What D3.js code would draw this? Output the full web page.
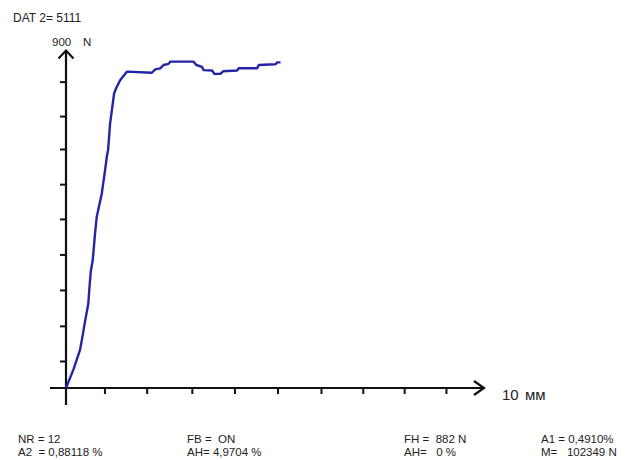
<!DOCTYPE html>
<html>
<head>
<meta charset="utf-8">
<script src="https://cdn.jsdelivr.net/npm/d3@7"></script>
<style>
  html, body { margin: 0; padding: 0; background: #fff; }
  svg { display: block; font-family: "Liberation Sans", Arial, sans-serif; }
</style>
</head>
<body>
<svg id="chart" width="625" height="460"></svg>
<script>
// Elongation (mm) and force (N) samples of the tensile test curve
const elongation = [0, 0.175, 0.336, 0.40, 0.44, 0.535, 0.559, 0.592, 0.64, 0.695, 0.736, 0.856, 0.935, 0.976, 1.007, 1.055, 1.151, 1.199, 1.295, 1.456,
  2.055, 2.134, 2.254, 2.333, 2.453, 2.494, 3.053, 3.118, 3.254, 3.293, 3.494, 3.549, 3.693, 3.758, 4.093, 4.132, 4.573, 4.612, 5.012, 5.053, 5.132];
const force = [0, 49, 103, 143, 170, 229, 269, 314, 346, 418, 463, 526, 589, 625, 643, 715, 796, 810, 832, 855,
  852, 861, 864, 873, 876, 882, 882, 873, 868, 859, 858, 849, 849, 856, 858, 864, 864, 873, 875, 880, 880];

// Axis tick marks (data units)
const xTicks = [0.92, 1.93, 3.01, 4.03, 5.06, 6.1, 7.1, 8.09, 9.09];
const yTicks = [73, 168, 265, 361, 457, 551, 646, 735, 828];

// Full-scale values and units
const xMax = 10, xUnit = "мм";
const yMax = 900, yUnit = "N";

// Header and result block
const header = "DAT 2= 5111";
const resultColumns = [
  ["NR = 12", "A2  = 0,88118 %"],
  ["FB =  ON", "AH= 4,9704 %"],
  ["FH =  882 N", "AH=   0 %"],
  ["A1 = 0,4910%", "M=   102349 N"]
];

const svg = d3.select("#chart");
const x = d3.scaleLinear().domain([0, xMax]).range([66, 484]);
const y = d3.scaleLinear().domain([0, yMax]).range([388, 55]);

const ink = "#111";

// Axes with extended lines past the origin
const g = svg.append("g");
g.append("line").attr("x1", x(0) - 16).attr("x2", x(xMax)).attr("y1", y(0)).attr("y2", y(0))
  .attr("stroke", ink).attr("stroke-width", 2.2);
g.append("line").attr("x1", x(0)).attr("x2", x(0)).attr("y1", y(0) + 17).attr("y2", y(0) - 337.5)
  .attr("stroke", ink).attr("stroke-width", 2.2);

// Arrow heads
g.append("path")
  .attr("d", `M${x(xMax) - 10},${y(0) - 7}L${x(xMax)},${y(0)}L${x(xMax) - 10},${y(0) + 7}`)
  .attr("fill", "none").attr("stroke", ink).attr("stroke-width", 2.2);
const yTop = y(0) - 337.5;
g.append("path")
  .attr("d", `M${x(0) - 7.5},${yTop + 8}L${x(0)},${yTop}L${x(0) + 7.5},${yTop + 8}`)
  .attr("fill", "none").attr("stroke", ink).attr("stroke-width", 2.2);

// Tick marks via d3 axes
const xAxis = d3.axisBottom(x).tickValues(xTicks).tickSize(6).tickFormat("");
const yAxis = d3.axisLeft(y).tickValues(yTicks).tickSize(6).tickFormat("");
const gx = svg.append("g").attr("transform", `translate(0,${y(0)})`).call(xAxis);
const gy = svg.append("g").attr("transform", `translate(${x(0)},0)`).call(yAxis);
[gx, gy].forEach(a => {
  a.select(".domain").remove();
  a.selectAll(".tick line").attr("stroke", ink).attr("stroke-width", 2);
});

// Force curve
const pts = elongation.map((e, i) => [e, force[i]]);
svg.append("path")
  .datum(pts)
  .attr("fill", "none")
  .attr("stroke", "#2424a8")
  .attr("stroke-width", 2.4)
  .attr("stroke-linejoin", "round")
  .attr("d", d3.line().x(d => x(d[0])).y(d => y(d[1])));

// Axis labels
const txt = "#222";
svg.append("text").attr("x", 13).attr("y", 22).attr("font-size", 12).attr("fill", txt).text(header);
svg.append("text").attr("x", 52).attr("y", 46).attr("font-size", 11.5).attr("fill", txt).text(String(yMax));
svg.append("text").attr("x", 83).attr("y", 46).attr("font-size", 11.5).attr("fill", txt).text(yUnit);
svg.append("text").attr("x", 502).attr("y", 399.5).attr("font-size", 15).attr("fill", txt).text(String(xMax));
svg.append("text").attr("x", 525).attr("y", 399.5).attr("font-size", 15).attr("fill", txt).text(xUnit);

// Result block
const colX = [18, 187, 404, 541];
resultColumns.forEach((col, i) => {
  col.forEach((line, j) => {
    svg.append("text")
      .attr("x", colX[i]).attr("y", 442.5 + j * 13.3)
      .attr("font-size", 11.5).attr("fill", txt)
      .attr("xml:space", "preserve").style("white-space", "pre")
      .text(line);
  });
});
</script>
</body>
</html>
